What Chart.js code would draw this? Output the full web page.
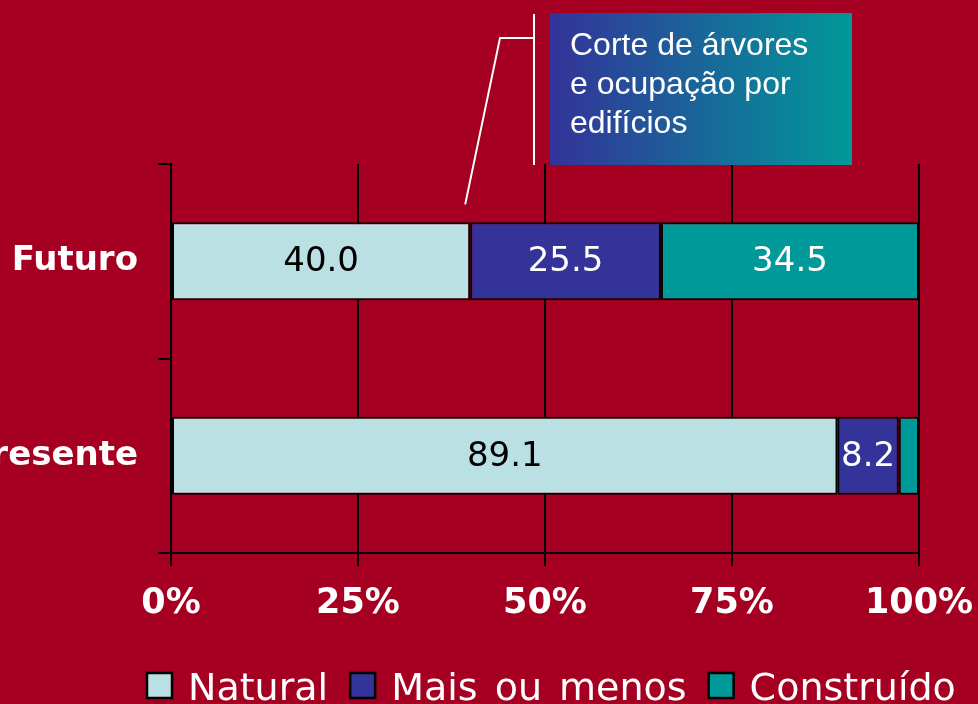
<!DOCTYPE html>
<html>
<head>
<meta charset="utf-8">
<script src="https://cdn.jsdelivr.net/npm/chart.js@4"></script>
<style>
  html, body { margin: 0; padding: 0; background: #A50021; overflow: hidden; }
  canvas { display: block; }
</style>
</head>
<body>
<canvas id="myChart" width="978" height="704"></canvas>
<script>
const categories = ["Futuro", "Presente"];
const natural = [40.0, 89.1];
const maisOuMenos = [25.5, 8.2];
const construido = [34.5, 2.7];
const xTicks = [0, 25, 50, 75, 100];
const seriesNames = ["Natural", "Mais ou menos", "Construído"];
const seriesColors = ["#BBE0E3", "#333399", "#009999"];
const labelColors = ["#000000", "#ffffff", "#ffffff"];
const calloutLines = ["Corte de árvores", "e ocupação por", "edifícios"];

const seriesValues = [natural, maisOuMenos, construido];

// value labels centred in each segment, skipped when they do not fit
const valueLabels = {
  id: "valueLabels",
  afterDatasetsDraw(chart) {
    const ctx = chart.ctx;
    ctx.save();
    ctx.font = "34px 'DejaVu Sans'";
    ctx.textAlign = "center";
    ctx.textBaseline = "middle";
    chart.data.datasets.forEach((ds, i) => {
      chart.getDatasetMeta(i).data.forEach((bar, j) => {
        const txt = ds.data[j].toFixed(1);
        const w = Math.abs(bar.x - bar.base);
        if (ctx.measureText(txt).width > w - 4) return;
        ctx.fillStyle = labelColors[i];
        ctx.fillText(txt, (bar.x + bar.base) / 2, bar.y + 1);
      });
    });
    ctx.restore();
  },
};

// callout box and the legend along the bottom
const extras = {
  id: "extras",
  afterDraw(chart) {
    const ctx = chart.ctx;
    ctx.save();

    // callout
    const bx = 550, by = 13, bw = 302, bh = 152;
    const grad = ctx.createLinearGradient(bx, 0, bx + bw, 0);
    grad.addColorStop(0, "#333399");
    grad.addColorStop(1, "#009999");
    ctx.fillStyle = grad;
    ctx.fillRect(bx, by, bw, bh);
    ctx.fillStyle = "#ffffff";
    ctx.font = "32px 'Liberation Sans'";
    ctx.textAlign = "left";
    ctx.textBaseline = "alphabetic";
    calloutLines.forEach((l, i) => ctx.fillText(l, 570, 55 + i * 39));

    const bar = chart.getDatasetMeta(0).data[0];
    ctx.strokeStyle = "#ffffff";
    ctx.lineWidth = 2;
    ctx.beginPath();
    ctx.moveTo(534, by + 1);
    ctx.lineTo(534, by + bh);
    ctx.moveTo(534, 38);
    ctx.lineTo(500, 38);
    ctx.lineTo(bar.x - 5, bar.y - bar.height / 2 - 18);
    ctx.stroke();

    // legend
    ctx.font = "38px 'DejaVu Sans'";
    ctx.wordSpacing = "5px";
    ctx.textBaseline = "alphabetic";
    let x = 147;
    const boxY = 673, box = 25;
    seriesNames.forEach((name, i) => {
      ctx.fillStyle = seriesColors[i];
      ctx.fillRect(x, boxY, box, box);
      ctx.strokeStyle = "#000000";
      ctx.lineWidth = 2.5;
      ctx.strokeRect(x, boxY, box, box);
      x += box + 16;
      ctx.fillStyle = "#ffffff";
      ctx.fillText(name, x, 700);
      x += ctx.measureText(name).width + 22;
    });
    ctx.restore();
  },
};

const ctx = document.getElementById("myChart").getContext("2d");
new Chart(ctx, {
  type: "bar",
  data: {
    labels: categories,
    datasets: seriesNames.map((name, i) => ({
      label: name,
      data: seriesValues[i],
      backgroundColor: seriesColors[i],
      borderColor: "#000000",
      borderWidth: 2,
      borderSkipped: false,
      barPercentage: 0.8,
      categoryPercentage: 0.5,
    })),
  },
  options: {
    indexAxis: "y",
    responsive: false,
    animation: false,
    layout: { padding: { top: 164, right: 59, left: 0, bottom: 0 } },
    plugins: {
      legend: { display: false },
      tooltip: { enabled: false },
    },
    scales: {
      x: {
        stacked: true,
        min: 0,
        max: 100,
        afterBuildTicks: (scale) => {
          scale.ticks = xTicks.map((v) => ({ value: v }));
        },
        afterFit: (scale) => {
          scale.height = 151;
          scale.paddingLeft = 0;
          scale.paddingRight = 0;
        },
        grid: {
          color: "#000000",
          lineWidth: 2,
          tickLength: 13,
        },
        border: { color: "#000000", width: 2 },
        ticks: {
          color: "#ffffff",
          padding: 17,
          font: { family: "DejaVu Sans", size: 35, weight: "bold" },
          callback: (v) => v + "%",
        },
      },
      y: {
        stacked: true,
        afterFit: (scale) => {
          scale.width = 171;
          scale.paddingTop = 0;
          scale.paddingBottom = 0;
        },
        grid: {
          color: "#000000",
          lineWidth: 2,
          tickLength: 13,
          drawOnChartArea: false,
          offset: true,
        },
        border: { color: "#000000", width: 2 },
        ticks: {
          color: "#ffffff",
          padding: 20,
          font: { family: "DejaVu Sans", size: 34, weight: "bold" },
        },
      },
    },
  },
  plugins: [valueLabels, extras],
});
</script>
</body>
</html>
